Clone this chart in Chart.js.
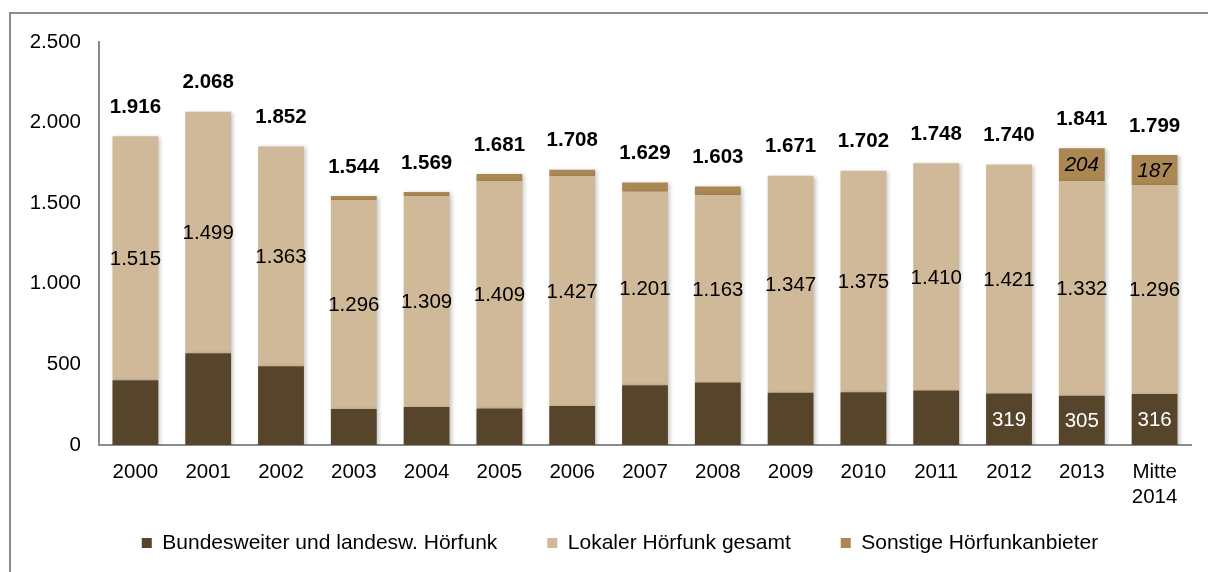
<!DOCTYPE html>
<html>
<head>
<meta charset="utf-8">
<script src="https://cdn.jsdelivr.net/npm/chart.js@4/dist/chart.umd.min.js"></script>
<style>
    html, body { margin: 0; padding: 0; background: #fff; overflow: hidden; }
    #wrap { position: relative; width: 1208px; height: 572px; }
    #frame {
        position: absolute; left: 9px; top: 12px; right: -20px; bottom: -20px;
        border-left: 2px solid #8c8c8c; border-top: 2px solid #8c8c8c;
        pointer-events: none;
    }
    #chart { position: absolute; left: 0; top: 0; }
</style>
</head>
<body>
<div id="wrap">
    <div id="frame"></div>
    <canvas id="chart" width="1208" height="572"></canvas>
</div>
<script>
// categories
const years = ['2000', '2001', '2002', '2003', '2004', '2005', '2006', '2007',
    '2008', '2009', '2010', '2011', '2012', '2013', ['Mitte', '2014']];

// series values
const bundesweit = [401, 569, 489, 223, 236, 227, 242, 370, 387, 324, 327, 338, 319, 305, 316];
const lokal = [1515, 1499, 1363, 1296, 1309, 1409, 1427, 1201, 1163, 1347, 1375, 1410, 1421, 1332, 1296];
const sonstige = [0, 0, 0, 25, 24, 45, 39, 58, 53, 0, 0, 0, 0, 204, 187];
const totals = [1916, 2068, 1852, 1544, 1569, 1681, 1708, 1629, 1603, 1671, 1702, 1748, 1740, 1841, 1799];

// which bottom segments carry a value label
const bottomLabelled = [12, 13, 14];

// y ticks
const yTicks = [0, 500, 1000, 1500, 2000, 2500];

const FONT = "'Liberation Sans', Arial, sans-serif";

function fmt(n) {
    return String(n).replace(/\B(?=(\d{3})+(?!\d))/g, '.');
}

// value labels inside and above the bars
const barLabels = {
    id: 'barLabels',
    afterDatasetsDraw(chart) {
        const ctx = chart.ctx;
        const y = chart.scales.y;
        const m0 = chart.getDatasetMeta(0);
        const m1 = chart.getDatasetMeta(1);
        const m2 = chart.getDatasetMeta(2);
        ctx.save();
        ctx.textAlign = 'center';
        ctx.textBaseline = 'middle';
        years.forEach((_, i) => {
            // middle segment
            let el = m1.data[i];
            ctx.font = '20.5px ' + FONT;
            ctx.fillStyle = '#000';
            ctx.fillText(fmt(lokal[i]), el.x, (el.y + el.base) / 2 + 1);

            // bottom segment (only some)
            if (bottomLabelled.includes(i)) {
                el = m0.data[i];
                ctx.fillStyle = '#fff';
                ctx.fillText(fmt(bundesweit[i]), el.x, (el.y + el.base) / 2 + 1);
            }

            // top segment, only when large enough
            if (sonstige[i] > 100) {
                el = m2.data[i];
                ctx.font = 'italic 20.5px ' + FONT;
                ctx.fillStyle = '#000';
                ctx.fillText(fmt(sonstige[i]), el.x, (el.y + el.base) / 2 + 1);
            }

            // total above the bar
            ctx.font = 'bold 20.5px ' + FONT;
            ctx.fillStyle = '#000';
            ctx.fillText(fmt(totals[i]), m1.data[i].x, y.getPixelForValue(totals[i]) - 29);
        });
        ctx.restore();
    }
};

// soft shadow behind the bars
const barShadow = {
    id: 'barShadow',
    beforeDatasetsDraw(chart) {
        const ctx = chart.ctx;
        ctx.save();
        ctx.shadowColor = 'rgba(0,0,0,0.22)';
        ctx.shadowBlur = 4;
        ctx.shadowOffsetX = 2;
        ctx.shadowOffsetY = 1;
    },
    afterDatasetsDraw(chart) {
        chart.ctx.restore();
    }
};

// put the legend row where the reference has it
const legendPlace = {
    id: 'legendPlace',
    afterLayout(chart) {
        const lg = chart.legend;
        const dx = 24.5;
        const dy = chart.chartArea.bottom + 37.5 - lg.top;
        lg.left += dx; lg.right += dx;
        lg.top += dy; lg.bottom += dy;
    }
};

new Chart(document.getElementById('chart'), {
    type: 'bar',
    data: {
        labels: years,
        datasets: [
            { label: 'Bundesweiter und landesw. Hörfunk', data: bundesweit, backgroundColor: '#56452a' },
            { label: 'Lokaler Hörfunk gesamt', data: lokal, backgroundColor: '#cfb998' },
            { label: 'Sonstige Hörfunkanbieter', data: sonstige, backgroundColor: '#ab8853' }
        ]
    },
    options: {
        responsive: false,
        animation: false,
        layout: { padding: { left: 0, right: 17, top: 42, bottom: -19 } },
        datasets: {
            bar: { categoryPercentage: 1, barPercentage: 0.63, borderWidth: 0 }
        },
        plugins: {
            legend: {
                position: 'bottom',
                labels: {
                    boxWidth: 10,
                    boxHeight: 10,
                    padding: 50,
                    color: '#000',
                    font: { family: FONT, size: 21 }
                }
            },
            tooltip: { enabled: false }
        },
        scales: {
            x: {
                stacked: true,
                grid: { display: false, drawTicks: false },
                border: { display: true, color: '#8c8c8c', width: 2 },
                ticks: {
                    color: '#000',
                    padding: 15,
                    maxRotation: 0,
                    font: { family: FONT, size: 20.5, lineHeight: 1.22 }
                },
                afterFit(scale) { scale.height = 65; }
            },
            y: {
                stacked: true,
                min: 0,
                max: 2500,
                grid: { display: false, drawTicks: false },
                border: { display: true, color: '#8c8c8c', width: 2 },
                afterBuildTicks(scale) { scale.ticks = yTicks.map(v => ({ value: v })); },
                ticks: {
                    color: '#000',
                    padding: 18,
                    font: { family: FONT, size: 20.5 },
                    callback: v => fmt(v)
                },
                afterFit(scale) { scale.width = 99; }
            }
        }
    },
    plugins: [barShadow, barLabels, legendPlace]
});
</script>
</body>
</html>
